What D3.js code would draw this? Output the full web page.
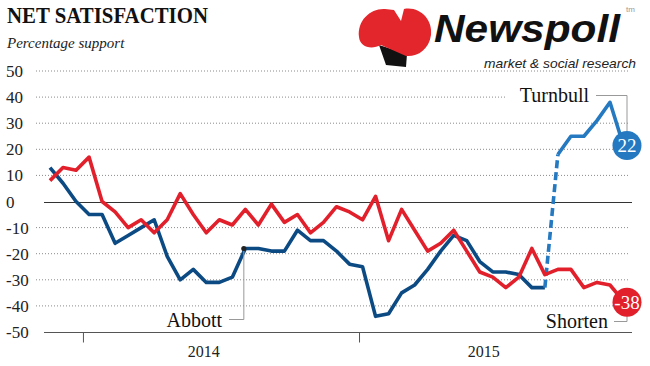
<!DOCTYPE html>
<html><head><meta charset="utf-8">
<script src="https://cdn.jsdelivr.net/npm/d3@7/dist/d3.min.js"></script>
<style>body{margin:0;background:#fff}svg{display:block}</style>
</head><body><svg id="c" width="650" height="366"></svg>
<script>
// Poll sequence (equally spaced polls, index 0..44)
const shorten = [8,13,12,17,0,-4,-10,-7,-12,-7,3,-5,-12,-7,-9,-3,-9,-1,-8,-5,-12,-8,-2,-4,-7,2,-15,-3,-11,-19,-16,-11,-19,-27,-29,-33,-29,-18,-28,-26,-26,-33,-31,-32,-38];
const abbott = [13,7,0,-5,-5,-16,-13,-10,-7,-21,-30,-26,-31,-31,-29,-18,-18,-19,-19,-11,-15,-15,-19,-24,-25,-44,-43,-35,-32,-26,-19,-13,-15,-23,-27,-27,-28,-33,-33];
const turnbull = [18,25,25,31,38,22];           // polls 39..44
const turnbullStart = 39;
const yTicks = [50,40,30,20,10,0,-10,-20,-30,-40,-50];
const yearTicks = [2.53, 23.73];                 // poll-index positions of 1 Jan
const yearLabels = ["2014","2015"];
const yearLabelPos = [11.8, 33.3];
const abbottMarkIdx = 15;

const svg = d3.select("#c");
const x = d3.scaleLinear().domain([0,44]).range([50,623]);
const y = d3.scaleLinear().domain([-50,50]).range([332,71]);
const serif = "'Liberation Serif','Times New Roman',serif";
const sans = "'Liberation Sans',Arial,sans-serif";
const RED = "#e2202b", NAVY = "#0c4a84", LBLUE = "#2479c1";

// Title
svg.append("text").attr("x",7).attr("y",23).attr("font-family",serif).attr("font-weight","bold")
  .attr("font-size",24).attr("textLength",201).attr("lengthAdjust","spacingAndGlyphs")
  .attr("fill","#111").text("NET SATISFACTION");
svg.append("text").attr("x",7).attr("y",48).attr("font-family",serif).attr("font-style","italic")
  .attr("font-size",15).attr("fill","#222").text("Percentage support");

// Gridlines
const g = svg.append("g");
g.selectAll("line.grid").data(yTicks.filter(d=>d!==0 && d!==-50)).join("line")
  .attr("x1",36).attr("x2",630).attr("y1",d=>y(d)).attr("y2",d=>y(d))
  .attr("stroke","#8a8a8a").attr("stroke-width",1).attr("stroke-dasharray","1,2");
g.selectAll("line.solid").data([0,-50]).join("line")
  .attr("x1",44).attr("x2",632).attr("y1",d=>Math.round(y(d))+0.5).attr("y2",d=>Math.round(y(d))+0.5)
  .attr("stroke",d=>d===0?"#333":"#555").attr("stroke-width",1);
// Y labels
g.selectAll("text.yl").data(yTicks).join("text")
  .attr("x",6).attr("y",d=>y(d)+6).attr("font-family",serif).attr("font-size",17)
  .attr("fill","#222").text(d=>d);
// white backing behind the Turnbull label (hides gridline only)
svg.append("rect").attr("x",505).attr("y",84).attr("width",130).attr("height",18).attr("fill","#fff");

// X axis ticks
const xAxis = d3.axisBottom(x).tickValues(yearTicks).tickSize(10).tickFormat("");
const ax = svg.append("g").attr("transform",`translate(0,${Math.round(y(-50))+0.5})`).call(xAxis);
ax.select(".domain").remove();
ax.selectAll(".tick line").attr("stroke","#555");
svg.selectAll("text.yr").data(yearLabels).join("text")
  .attr("x",(d,i)=>x(yearLabelPos[i])).attr("y",357).attr("text-anchor","middle")
  .attr("font-family",serif).attr("font-size",16).attr("fill","#222").text(d=>d);

// Logo
const logo = svg.append("g");
logo.append("path").attr("fill","#111")
  .attr("d","M379,45 L407,54 L406,67 L386,65 Z");
logo.append("path").attr("fill","#e3262c")
  .attr("d","M359,37 C357,20 371,8 385,9 L394,10 L401,21 L404,9 C420,6 433,20 431,35 C429,50 417,57 406,56 L381,45 C371,50 360,47 359,37 Z");
logo.append("text").attr("x",434).attr("y",42).attr("font-family",sans)
  .attr("font-weight","bold").attr("font-style","italic").attr("font-size",38)
  .attr("textLength",186).attr("lengthAdjust","spacingAndGlyphs").attr("fill","#111").text("Newspoll");
logo.append("text").attr("x",626).attr("y",12).attr("font-family",sans)
  .attr("font-size",8).attr("fill","#999").text("tm");
logo.append("text").attr("x",484).attr("y",68).attr("font-family",sans)
  .attr("font-style","italic").attr("font-size",13).attr("textLength",152).attr("lengthAdjust","spacingAndGlyphs")
  .attr("fill","#222").text("market & social research");

// Lines
const line = d3.line().x(d=>x(d.i)).y(d=>y(d.v));
const abbottPts = abbott.map((v,i)=>({i,v}));
const turnPts = turnbull.map((v,k)=>({i:turnbullStart+k,v}));
const redPts = shorten.map((v,i)=>({i,v}));
svg.append("path").datum(abbottPts).attr("d",line).attr("fill","none").attr("stroke",NAVY)
  .attr("stroke-width",3.6).attr("stroke-linejoin","round");
svg.append("path").datum([abbottPts[abbottPts.length-1], turnPts[0]]).attr("d",line).attr("fill","none")
  .attr("stroke",LBLUE).attr("stroke-width",3.6).attr("stroke-dasharray","8,4");
svg.append("path").datum(turnPts).attr("d",line).attr("fill","none").attr("stroke",LBLUE)
  .attr("stroke-width",3.6).attr("stroke-linejoin","round");
svg.append("path").datum(redPts).attr("d",line).attr("fill","none").attr("stroke",RED)
  .attr("stroke-width",3.6).attr("stroke-linejoin","round");

// Abbott label
const am = abbottPts[abbottMarkIdx];
svg.append("path").attr("fill","none").attr("stroke","#999").attr("stroke-width",1)
  .attr("d",`M${x(am.i)-1.5},${y(am.v)} V319.5 H229`);
svg.append("circle").attr("cx",x(am.i)-1.5).attr("cy",y(am.v)).attr("r",2.6).attr("fill","#222");
svg.append("text").attr("x",222).attr("y",327).attr("text-anchor","end").attr("font-family",serif)
  .attr("font-size",20).attr("fill","#111").text("Abbott");

// End labels
const tEnd = turnPts[turnPts.length-1], sEnd = redPts[redPts.length-1];
const tcx = x(tEnd.i)+4, tcy = y(tEnd.v)+1.5, scx = x(sEnd.i)+4, scy = y(sEnd.v)+1.5;
svg.append("path").attr("fill","none").attr("stroke","#999").attr("stroke-width",1)
  .attr("d",`M596,95.5 H${tcx} V${tcy-14}`);
svg.append("text").attr("x",589).attr("y",102).attr("text-anchor","end").attr("font-family",serif)
  .attr("font-size",20).attr("fill","#111").text("Turnbull");
svg.append("path").attr("fill","none").attr("stroke","#999").attr("stroke-width",1)
  .attr("d",`M614,321.5 H${scx} V${scy+14}`);
svg.append("text").attr("x",608).attr("y",328).attr("text-anchor","end").attr("font-family",serif)
  .attr("font-size",20).attr("fill","#111").text("Shorten");

svg.append("circle").attr("cx",tcx).attr("cy",tcy).attr("r",14.5).attr("fill",LBLUE);
svg.append("text").attr("x",tcx).attr("y",tcy+6.5).attr("text-anchor","middle").attr("font-family",serif)
  .attr("font-size",19).attr("fill","#fff").text(tEnd.v);
svg.append("circle").attr("cx",scx).attr("cy",scy).attr("r",14.5).attr("fill",RED);
svg.append("text").attr("x",scx).attr("y",scy+6.5).attr("text-anchor","middle").attr("font-family",serif)
  .attr("font-size",19).attr("fill","#fff").text(sEnd.v);
</script></body></html>
